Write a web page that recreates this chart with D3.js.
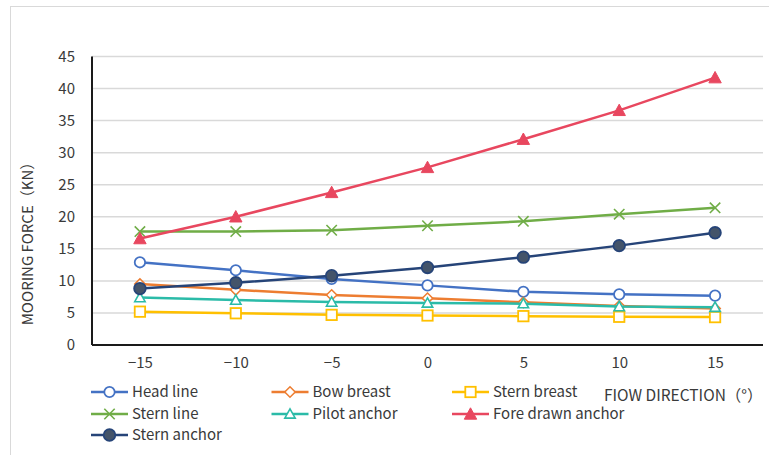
<!DOCTYPE html>
<html>
<head>
<meta charset="utf-8">
<script src="https://cdn.jsdelivr.net/npm/d3@7"></script>
<style>
  html, body { margin: 0; padding: 0; background: #fff; }
  svg { display: block; }
  text { font-family: "Noto Sans CJK SC", "Open Sans", sans-serif; fill: #3a3a3a; }
</style>
</head>
<body>
<svg id="chart" width="769" height="455"></svg>
<script>
const categories = ["\u221215", "\u221210", "\u22125", "0", "5", "10", "15"];
const yTicks = [0, 5, 10, 15, 20, 25, 30, 35, 40, 45];

const headLine        = [12.9, 11.65, 10.3, 9.3, 8.3, 7.9, 7.7];
const bowBreast       = [9.5, 8.6, 7.8, 7.3, 6.65, 6.1, 5.7];
const sternBreast     = [5.2, 4.95, 4.7, 4.6, 4.5, 4.4, 4.35];
const sternLine       = [17.7, 17.7, 17.9, 18.6, 19.3, 20.4, 21.4];
const pilotAnchor     = [7.4, 7.0, 6.7, 6.55, 6.45, 6.0, 5.9];
const foreDrawnAnchor = [16.6, 20.0, 23.8, 27.7, 32.1, 36.6, 41.7];
const sternAnchor     = [8.8, 9.7, 10.8, 12.1, 13.7, 15.5, 17.5];

const seriesNames = ["Head line", "Bow breast", "Stern breast", "Stern line", "Pilot anchor", "Fore drawn anchor", "Stern anchor"];
const seriesValues = [headLine, bowBreast, sternBreast, sternLine, pilotAnchor, foreDrawnAnchor, sternAnchor];
const seriesColors = ["#4472C4", "#ED7D31", "#FFC000", "#70AD47", "#2BBBA8", "#E8475F", "#264478"];
const seriesMarkers = ["circleOpen", "diamondOpen", "squareOpen", "cross", "triangleOpen", "triangleFilled", "circleFilled"];

const svg = d3.select("#chart");

// outer border
svg.append("rect").attr("x", 10.5).attr("y", 6.5).attr("width", 770).attr("height", 460)
  .attr("fill", "none").attr("stroke", "#d9d9d9").attr("stroke-width", 1);

const plotLeft = 92, plotRight = 763, plotTop = 56.5, plotBottom = 345;
const x = d3.scalePoint().domain(categories).range([plotLeft, plotRight]).padding(0.5);
const y = d3.scaleLinear().domain([0, 45]).range([plotBottom, plotTop]);

// gridlines
svg.append("g").selectAll("line").data(yTicks.filter(d => d > 0)).join("line")
  .attr("x1", plotLeft).attr("x2", plotRight)
  .attr("y1", d => y(d)).attr("y2", d => y(d))
  .attr("stroke", "#d9d9d9").attr("stroke-width", 1.5);

// y axis
const yAxis = svg.append("g").attr("transform", `translate(${plotLeft},0)`)
  .call(d3.axisLeft(y).tickValues(yTicks).tickSize(0).tickPadding(17));
yAxis.select(".domain").attr("stroke", "#1a1a1a").attr("stroke-width", 2).attr("d", `M0,${plotTop}V${plotBottom}`);
yAxis.selectAll("text").attr("font-size", 15).attr("fill", "#3a3a3a")
  .style("font-family", '"Noto Sans CJK SC", sans-serif');

// x axis
const xAxis = svg.append("g").attr("transform", `translate(0,${plotBottom})`)
  .call(d3.axisBottom(x).tickSize(0).tickPadding(12));
xAxis.select(".domain").attr("stroke", "#1a1a1a").attr("stroke-width", 2).attr("d", `M${plotLeft},0H${plotRight}`);
xAxis.selectAll("text").attr("font-size", 15).attr("fill", "#3a3a3a")
  .style("font-family", '"Noto Sans CJK SC", sans-serif');

// y title
svg.append("text")
  .attr("transform", `translate(33,${240}) rotate(-90)`)
  .attr("text-anchor", "middle").attr("font-size", 15)
  .text("MOORING FORCE（KN）");

// marker drawing
function drawMarker(g, type, color, cx, cy) {
  const s = 5.2;
  if (type === "circleOpen") {
    g.append("circle").attr("cx", cx).attr("cy", cy).attr("r", s)
      .attr("fill", "#fff").attr("stroke", color).attr("stroke-width", 1.8);
  } else if (type === "circleFilled") {
    g.append("circle").attr("cx", cx).attr("cy", cy).attr("r", s + 0.6)
      .attr("fill", "#44546A").attr("stroke", color).attr("stroke-width", 1.8);
  } else if (type === "diamondOpen") {
    g.append("path").attr("d", `M${cx},${cy - s}L${cx + s},${cy}L${cx},${cy + s}L${cx - s},${cy}Z`)
      .attr("fill", "#fff").attr("stroke", color).attr("stroke-width", 1.5);
  } else if (type === "squareOpen") {
    g.append("rect").attr("x", cx - s).attr("y", cy - s).attr("width", 2 * s).attr("height", 2 * s)
      .attr("fill", "#fff").attr("stroke", color).attr("stroke-width", 1.8);
  } else if (type === "cross") {
    g.append("path").attr("d", `M${cx - s},${cy - s}L${cx + s},${cy + s}M${cx - s},${cy + s}L${cx + s},${cy - s}`)
      .attr("fill", "none").attr("stroke", color).attr("stroke-width", 1.6);
  } else if (type === "triangleOpen") {
    g.append("path").attr("d", `M${cx},${cy - s}L${cx + s},${cy + s * 0.8}L${cx - s},${cy + s * 0.8}Z`)
      .attr("fill", "#fff").attr("stroke", color).attr("stroke-width", 1.6);
  } else if (type === "triangleFilled") {
    g.append("path").attr("d", `M${cx},${cy - s - 1}L${cx + s + 1},${cy + s}L${cx - s - 1},${cy + s}Z`)
      .attr("fill", color).attr("stroke", color).attr("stroke-width", 1);
  }
}

const line = d3.line().x((d, i) => x(categories[i])).y(d => y(d));

seriesValues.forEach((vals, si) => {
  const g = svg.append("g");
  g.append("path").attr("d", line(vals)).attr("fill", "none")
    .attr("stroke", seriesColors[si]).attr("stroke-width", 2.5);
  vals.forEach((v, i) => drawMarker(g, seriesMarkers[si], seriesColors[si], x(categories[i]), y(v)));
});

// legend
const legendPos = [
  [91, 392], [271.5, 392], [452, 392],
  [91, 414], [271.5, 414], [452, 414],
  [91, 435]
];
seriesNames.forEach((name, si) => {
  const [lx, ly] = legendPos[si];
  const g = svg.append("g");
  g.append("line").attr("x1", lx).attr("x2", lx + 37).attr("y1", ly).attr("y2", ly)
    .attr("stroke", seriesColors[si]).attr("stroke-width", 2.5);
  drawMarker(g, seriesMarkers[si], seriesColors[si], lx + 18.5, ly);
  g.append("text").attr("x", lx + 41).attr("y", ly).attr("dy", "0.35em")
    .attr("font-size", 15).text(name);
});

// x title
svg.append("text").attr("x", 604).attr("y", 396).attr("dy", "0.35em")
  .attr("font-size", 15.5).text("FIOW DIRECTION（°）");
</script>
</body>
</html>
